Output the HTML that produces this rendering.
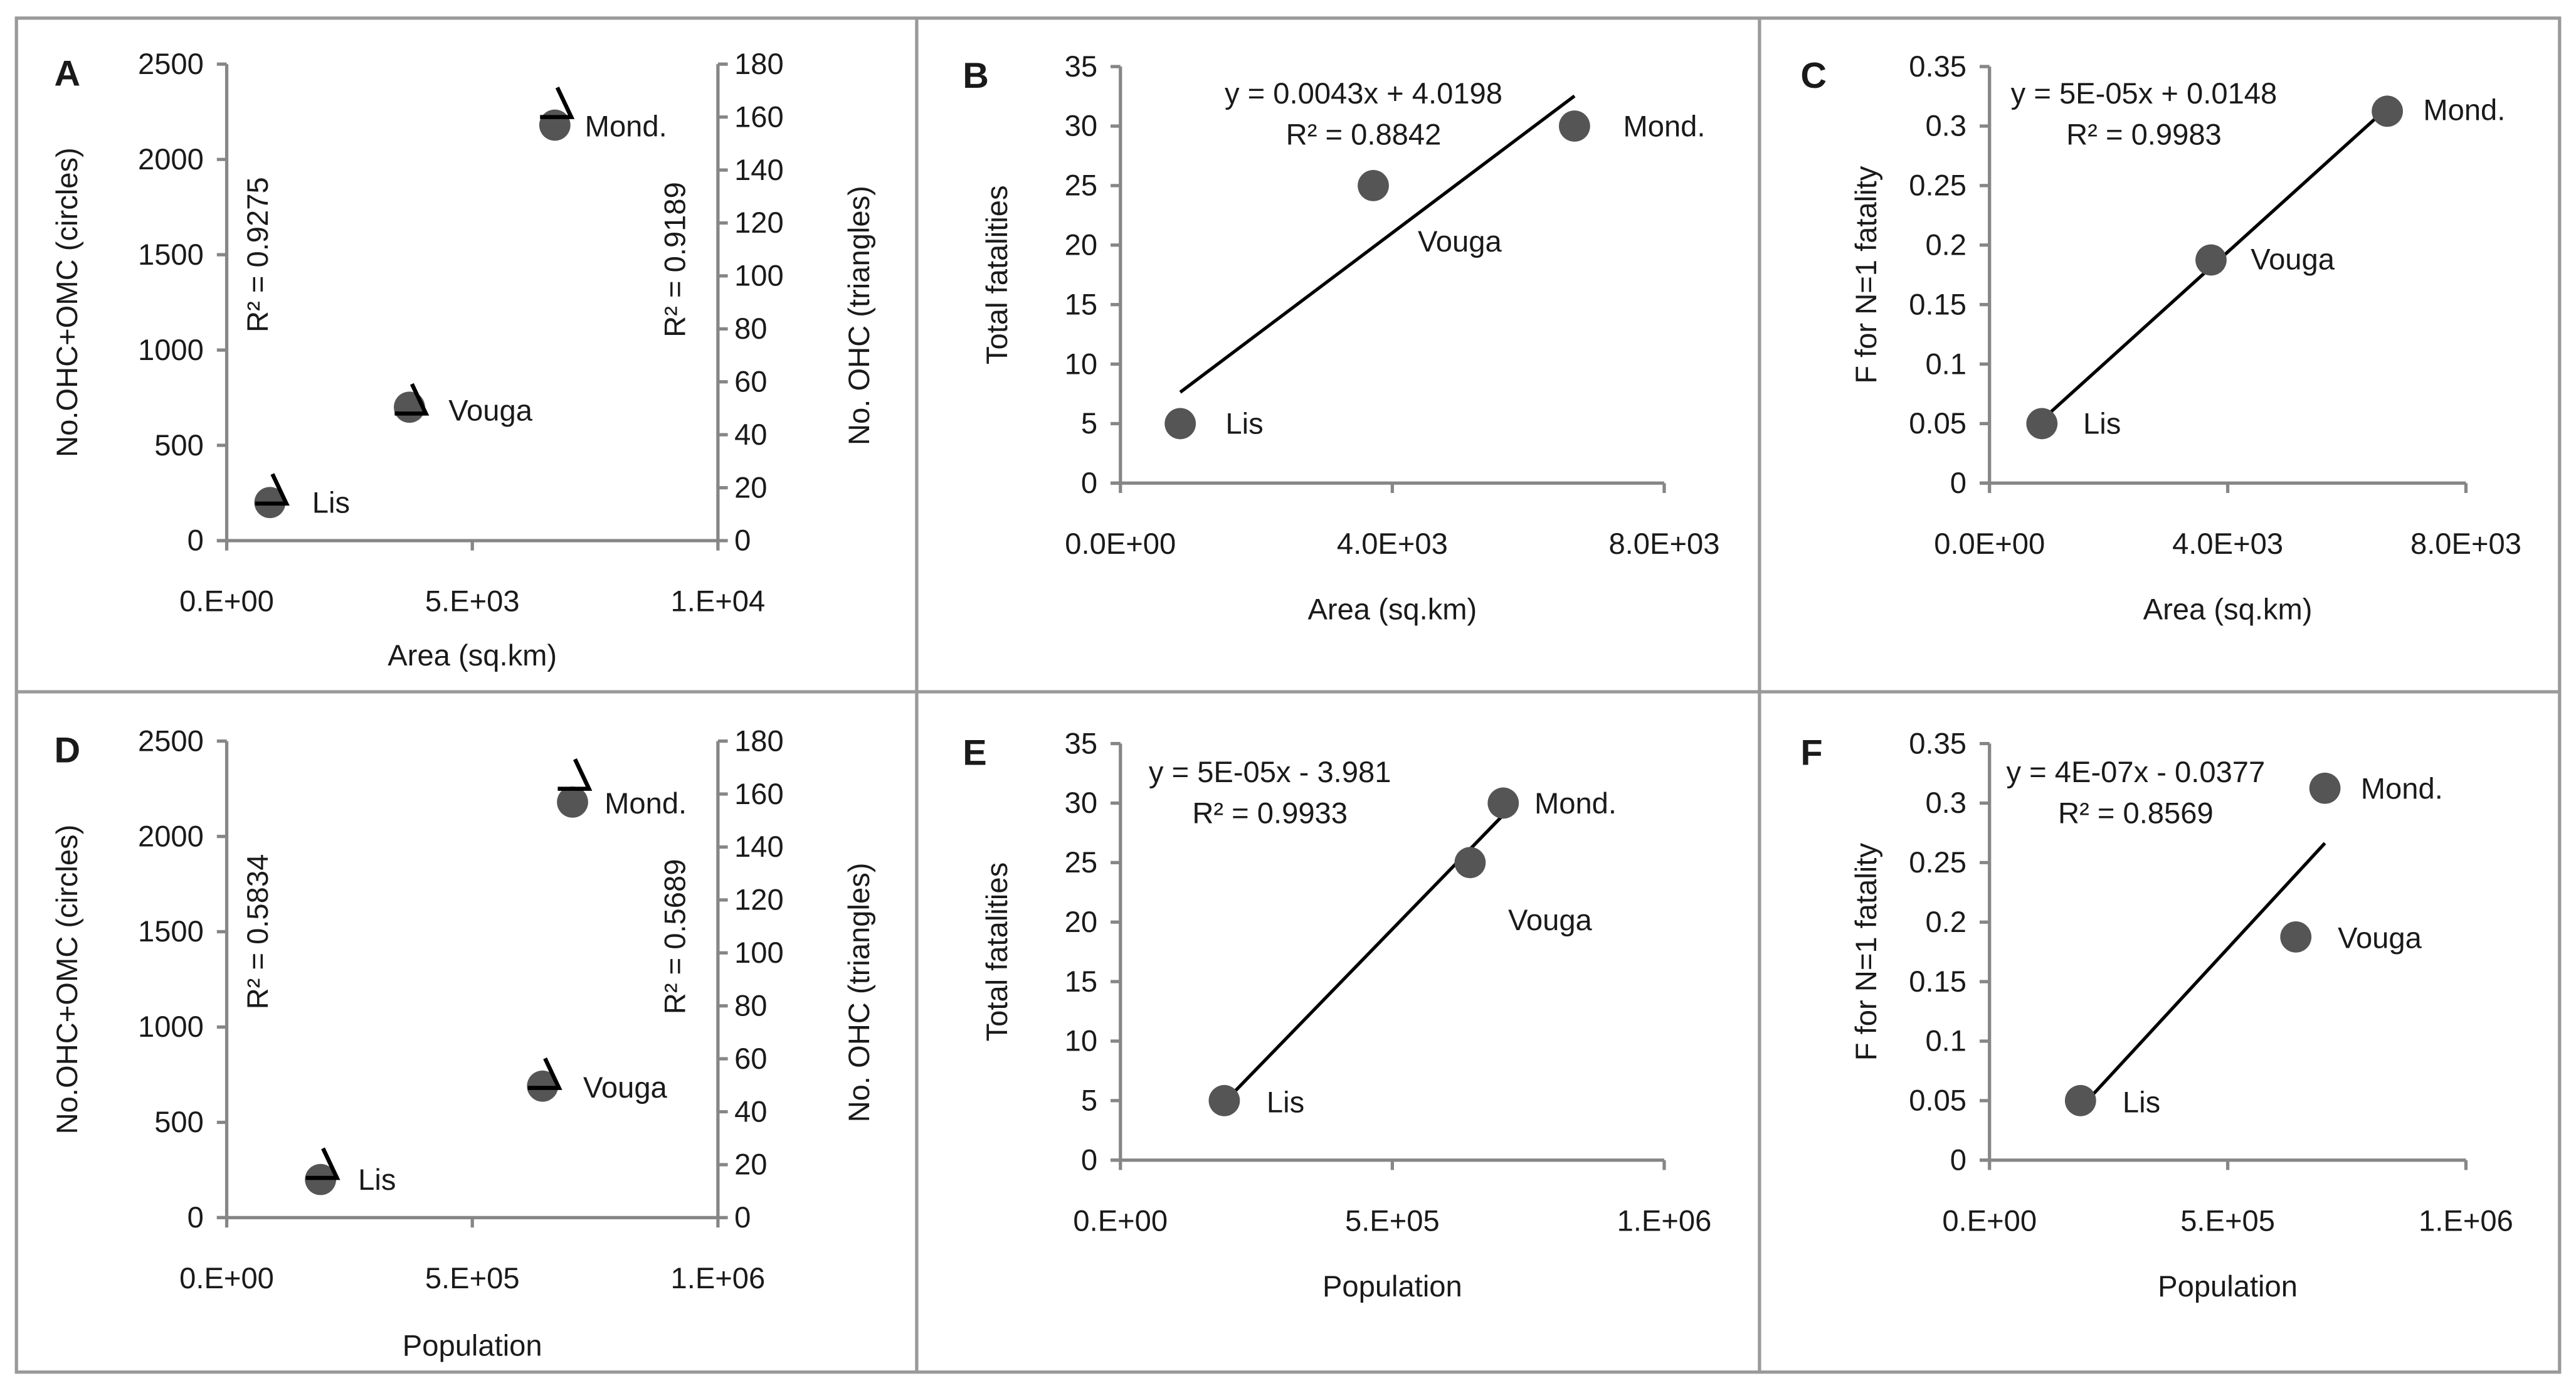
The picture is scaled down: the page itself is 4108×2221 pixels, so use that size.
<!DOCTYPE html>
<html><head><meta charset="utf-8">
<style>
html,body{margin:0;padding:0;background:#fff;}
svg{display:block;}
text{font-family:"Liberation Sans",sans-serif;fill:#1a1a1a;}
</style></head>
<body>
<svg id="fig" xmlns="http://www.w3.org/2000/svg" width="4108" height="2221" viewBox="0 0 1568 847.7">
<rect x="0" y="0" width="1568" height="847.7" fill="#fff"/>
<g id="borders" fill="none" stroke="#9a9a9a" stroke-width="2">
<rect x="10" y="11" width="1548" height="824"/>
<line x1="558" y1="11" x2="558" y2="835"/>
<line x1="1071" y1="11" x2="1071" y2="835"/>
<line x1="10" y1="421" x2="1558" y2="421"/>
</g>
<g id="plots"></g>
</svg>
<script>
const siteNames = ["Lis", "Vouga", "Mond."];
const areaKm = [880, 3720, 6680];
const population = [191000, 643000, 704000];
const ohcOmcA = [200, 700, 2180];
const ohcA = [14, 48, 160];
const ohcOmcD = [200, 690, 2180];
const ohcD = [15, 49, 162];
const fatalities = [5, 25, 30];
const fN1 = [0.05, 0.1875, 0.3125];
const ticksLeftCount = ["0","500","1000","1500","2000","2500"];
const ticksRightCount = ["0","20","40","60","80","100","120","140","160","180"];
const ticksFatal = ["0","5","10","15","20","25","30","35"];
const ticksF = ["0","0.05","0.1","0.15","0.2","0.25","0.3","0.35"];
const ticksAreaA = ["0.E+00","5.E+03","1.E+04"];
const ticksAreaB = ["0.0E+00","4.0E+03","8.0E+03"];
const ticksPop = ["0.E+00","5.E+05","1.E+06"];

const NS = "http://www.w3.org/2000/svg";
const FS = 18;
const root = document.getElementById('plots');
function mk(tag, attrs, parent, txt){
  const e = document.createElementNS(NS, tag);
  for (const k in attrs) e.setAttribute(k, attrs[k]);
  if (txt !== undefined) e.textContent = txt;
  (parent || root).appendChild(e);
  return e;
}
function lin(d0, d1, r0, r1){ return v => r0 + (v - d0) / (d1 - d0) * (r1 - r0); }
function fit(xs, ys){
  const n = xs.length;
  const mx = xs.reduce((a,b)=>a+b,0)/n, my = ys.reduce((a,b)=>a+b,0)/n;
  let sxy=0, sxx=0;
  for (let i=0;i<n;i++){ sxy += (xs[i]-mx)*(ys[i]-my); sxx += (xs[i]-mx)*(xs[i]-mx); }
  const m = sxy/sxx; return {m:m, b:my-m*mx};
}
const AX = "#868686";

function axes(g, cfg){
  const {x0,x1,y0,y1} = cfg;
  const l1 = mk('line',{x1:x0,y1:y0,x2:x0,y2:y1,stroke:AX,'stroke-width':2},g);
  
  
  const l2 = mk('line',{x1:x0-6,y1:y0,x2:x1,y2:y0,stroke:AX,'stroke-width':2},g);
  
  
  const ny = cfg.yTicks.length;
  cfg.yTicks.forEach((t,i)=>{
    const y = y0 + (y1-y0)*i/(ny-1);
    mk('line',{x1:x0-6,y1:y,x2:x0,y2:y,stroke:AX,'stroke-width':2},g);
    const tx = mk('text',{x:x0-14,y:y+6,'text-anchor':'end','font-size':FS},g,t);
    
    
  });
  const nx = cfg.xTicks.length;
  cfg.xTicks.forEach((t,i)=>{
    const x = x0 + (x1-x0)*i/(nx-1);
    mk('line',{x1:x,y1:y0,x2:x,y2:y0+6,stroke:AX,'stroke-width':2},g);
    const tx = mk('text',{x:x,y:y0+43,'text-anchor':'middle','font-size':FS},g,t);
    
    
  });
  const xt = mk('text',{x:(x0+x1)/2,y:y0+cfg.xTitleDy,'text-anchor':'middle','font-size':FS},g,cfg.xTitle);
  
  
  const yt = mk('text',{x:0,y:0,'text-anchor':'middle','font-size':FS,transform:`translate(${cfg.yTitleX},${(y0+y1)/2}) rotate(-90)`},g,cfg.yTitle);
  
  
  const lt = mk('text',{x:cfg.letterX,y:y1+13,'font-size':22,'font-weight':'bold'},g,cfg.letter);
  
  
}
function circles(g, sx, sy, xs, ys){
  xs.forEach((v,i)=>{
    const c = mk('circle',{cx:sx(v),cy:sy(ys[i]),r:9.5,fill:'#555'},g);
    
    
  });
}
function triangles(g, sx, sy, xs, ys){
  xs.forEach((v,i)=>{
    const cx = sx(v), ty = sy(ys[i]);
    const p = mk('path',{d:`M${cx-9},${ty} L${cx+10},${ty} L${cx+1.5},${ty-18}`,fill:'none',stroke:'#000','stroke-width':2.5},g);
    
    
  });
}
function labels(g, pos){
  pos.forEach((p,i)=>{
    const t = mk('text',{x:p[0],y:p[1]+6,'font-size':FS},g,siteNames[i]);
    
    
  });
}
function trend(g, sx, sy, xs, ys){
  const f = fit(xs, ys);
  const a = Math.min(...xs), b = Math.max(...xs);
  const l = mk('line',{x1:sx(a),y1:sy(f.m*a+f.b),x2:sx(b),y2:sy(f.m*b+f.b),stroke:'#000','stroke-width':2},g);
  
  
}
function eq(g, x, y, lines){
  lines.forEach((s,i)=>{
    const t = mk('text',{x:x,y:y+6+i*25,'text-anchor':'middle','font-size':FS},g,s);
    
    
  });
}
function rotText(g, x, y, s){
  const t = mk('text',{x:0,y:0,'text-anchor':'middle','font-size':FS,transform:`translate(${x},${y}) rotate(-90)`},g,s);
  
  
}

function countPanel(letter, off, xs, ticksX, xMax, circ, tri, xTitle, r2a, r2b, lab){
  const g = mk('g',{});
  
  
  const x0=138, x1=437, y0=329+off, y1=39+off;
  axes(g,{x0,x1,y0,y1,yTicks:ticksLeftCount,xTicks:ticksX,xTitle,xTitleDy:xTitle==='Population'?84:76,yTitle:'No.OHC+OMC (circles)',yTitleX:47,letter,letterX:33});
  const r = mk('line',{x1:x1,y1:y0,x2:x1,y2:y1,stroke:AX,'stroke-width':2},g);
  
  
  const nr = ticksRightCount.length;
  ticksRightCount.forEach((t,i)=>{
    const y = y0+(y1-y0)*i/(nr-1);
    mk('line',{x1:x1,y1:y,x2:x1+6,y2:y,stroke:AX,'stroke-width':2},g);
    const tx = mk('text',{x:x1+10,y:y+6,'font-size':FS},g,t);
    
    
  });
  const rt = mk('text',{x:0,y:0,'text-anchor':'middle','font-size':FS,transform:`translate(${529},${(y0+y1)/2+8}) rotate(-90)`},g,'No. OHC (triangles)');
  
  
  const sx = lin(0,xMax,x0,x1), sy = lin(0,2500,y0,y1), sy2 = lin(0,180,y0,y1);
  circles(g,sx,sy,xs,circ);
  triangles(g,sx,sy2,xs,tri);
  labels(g, lab);
  rotText(g,163,155+off,r2a);
  rotText(g,417,158+off,r2b);
}
countPanel('A',0,areaKm,ticksAreaA,10000,ohcOmcA,ohcA,'Area (sq.km)','R² = 0.9275','R² = 0.9189',[[190,306],[273,250],[356,77]]);
countPanel('D',412,population,ticksPop,1000000,ohcOmcD,ohcD,'Population','R² = 0.5834','R² = 0.5689',[[218,718],[355,662],[368,489]]);

function fitPanel(letter, off, x0, x1, xs, ticksX, xMax, ys, ticksY, yMax, yTitle, xTitle, eqPos, eqLines, lab, letterX){
  const g = mk('g',{});
  
  
  const y0=294+off, y1=40.5+off;
  axes(g,{x0,x1,y0,y1,yTicks:ticksY,xTicks:ticksX,xTitle,xTitleDy:83,yTitle,yTitleX:x0-69,letter,letterX});
  const sx = lin(0,xMax,x0,x1), sy = lin(0,yMax,y0,y1);
  trend(g,sx,sy,xs,ys);
  circles(g,sx,sy,xs,ys);
  labels(g,lab);
  eq(g,eqPos[0],eqPos[1],eqLines);
}
fitPanel('B',0,682,1013,areaKm,ticksAreaB,8000,fatalities,ticksFatal,35,'Total fatalities','Area (sq.km)',[830,57],['y = 0.0043x + 4.0198','R² = 0.8842'],[[746,258],[863,147],[988,77]],586);
fitPanel('C',0,1211,1501,areaKm,ticksAreaB,8000,fN1,ticksF,0.35,'F for N=1 fatality','Area (sq.km)',[1305,57],['y = 5E-05x + 0.0148','R² = 0.9983'],[[1268,258],[1370,158],[1475,67]],1096);
fitPanel('E',412,682,1013,population,ticksPop,1000000,fatalities,ticksFatal,35,'Total fatalities','Population',[773,470],['y = 5E-05x - 3.981','R² = 0.9933'],[[771,671],[918,560],[934,489]],586);
fitPanel('F',412,1211,1501,population,ticksPop,1000000,fN1,ticksF,0.35,'F for N=1 fatality','Population',[1300,470],['y = 4E-07x - 0.0377','R² = 0.8569'],[[1292,671],[1423,571],[1437,480]],1096);
</script>
</body></html>
